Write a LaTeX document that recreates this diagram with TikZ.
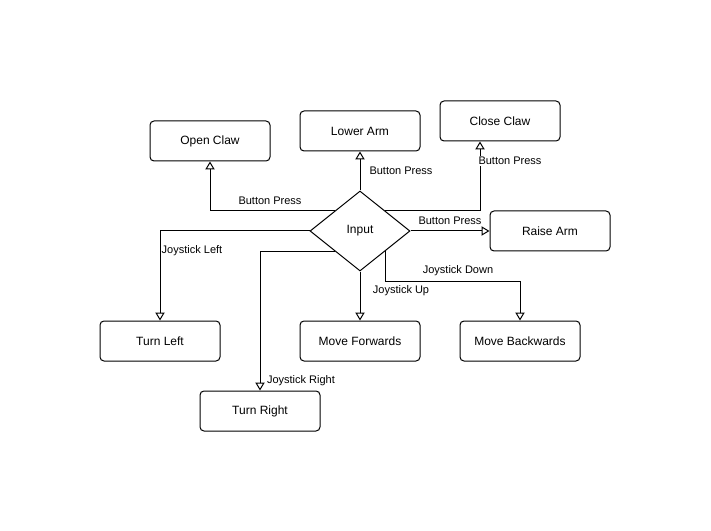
\documentclass[tikz,border=0pt]{standalone}
\usepackage{fontspec}
\setmainfont{Liberation Sans}
\usetikzlibrary{arrows.meta, shapes.geometric}

\begin{document}
\begin{tikzpicture}[x=0.75pt, y=-0.75pt, >={Triangle[open, length=6pt, width=7pt]},
      line width=0.75pt,
      box/.style={rounded corners=3pt, draw, minimum width=90pt,
                  minimum height=30pt, align=center, inner sep=2pt,
                  font=\fontsize{9}{11}\selectfont},
      dec/.style={diamond, draw, minimum width=75pt, minimum height=60pt,
                  inner sep=0pt, font=\fontsize{9}{11}\selectfont},
      lbl/.style={fill=white, inner sep=0.5pt, font=\fontsize{8.25}{10}\selectfont}]
    \useasboundingbox (0,0) rectangle (711,531);
    \node[dec] (in) at (360,231) {Input};

    \node[box] (oc) at (210,141) {Open Claw};
    \node[box] (la) at (360,131) {Lower Arm};
    \node[box] (cc) at (500,121) {Close Claw};
    \node[box] (ra) at (550,231) {Raise Arm};
    \node[box] (tl) at (160,341) {Turn Left};
    \node[box] (mf) at (360,341) {Move Forwards};
    \node[box] (mb) at (520,341) {Move Backwards};
    \node[box] (tr) at (260,411) {Turn Right};

    \draw[->] (in.north west) -| (oc);
    \draw[->] (in) -- (la);
    \draw[->] (in.north east) -| ([xshift=-15pt]cc.south);
    \draw[->] (in) -- (ra);
    \draw[->] (in.west) -| (tl);
    \draw[->] (in.south west) -| (tr);
    \draw[->] (in) -- (mf);
    \draw[->] (in.south east) -- ++(0,30) -| (mb);

    \node[lbl] (lbloc) at (270,201) {Button Press};
    \node[lbl] (lblla) at (401,171) {Button Press};
    \node[lbl] (lblcc) at (510,161) {Button Press};
    \node[lbl] (lblra) at (450,221) {Button Press};
    \node[lbl] (lbltl) at (192,251) {Joystick Left};
    \node[lbl] (lblmf) at (401,291) {Joystick Up};
    \node[lbl] (lblmb) at (458,271) {Joystick Down};
    \node[lbl] (lbltr) at (301,381) {Joystick Right};
\end{tikzpicture}
\end{document}
